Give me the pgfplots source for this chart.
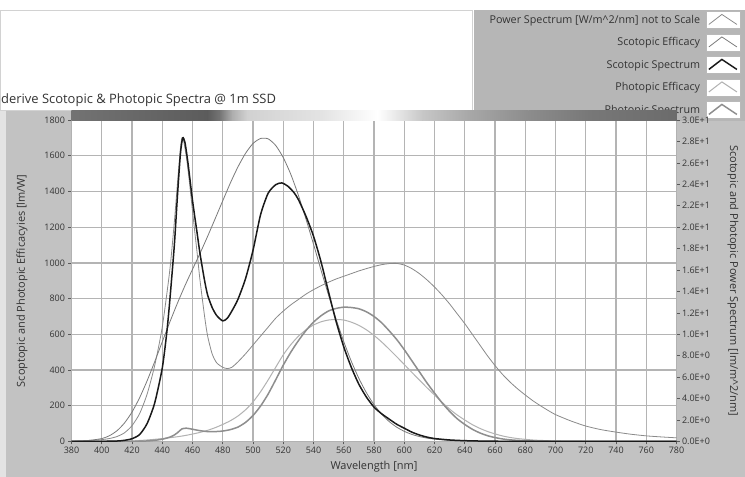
\documentclass[border=0pt]{standalone}
\usepackage{fontspec}
\setmainfont{Open Sans}
\usepackage{pgfplots}
\usepackage{pgfplotstable}
\pgfplotsset{compat=1.18}
\definecolor{bggray}{HTML}{C2C2C2}
\definecolor{leggray}{HTML}{B6B6B6}
\definecolor{gridgray}{HTML}{B4B4B4}
\definecolor{txtgray}{HTML}{333333}
\definecolor{cpow}{HTML}{8A8A8A}
\definecolor{cseff}{HTML}{7A7A7A}
\definecolor{csspec}{HTML}{1A1A1A}
\definecolor{cpeff}{HTML}{B2B2B2}
\definecolor{cpspec}{HTML}{8E8E8E}

\pgfplotstableread{
x y
380 2
385 3
390 5
395 7
400 10
405 16
410 27
415 48
420 88
425 155
430 265
435 425
440 640
445 960
448 1230
450 1440
452 1640
453 1700
454 1690
456 1590
458 1450
460 1290
463 1060
465 900
468 700
470 590
473 490
476 440
480 415
483 408
486 415
490 445
495 490
500 540
505 590
510 640
515 690
520 730
525 765
530 795
535 825
540 850
545 872
550 892
555 910
560 925
565 940
570 955
575 968
580 980
585 990
590 996
595 997
600 988
605 968
610 940
615 905
620 865
625 820
630 770
635 715
640 660
645 600
650 540
655 480
660 425
665 375
670 332
675 294
680 260
685 228
690 200
695 174
700 150
710 115
720 86
730 66
740 52
750 40
760 31
770 25
780 20
}\power

\pgfplotstableread{
x y
380 1.0
390 3.8
400 15.8
405 31.5
410 59.2
415 102.7
420 164.2
425 244.1
430 339.7
435 446.3
440 557.8
445 668.3
450 773.5
455 872.1
460 963.9
465 1054
470 1149
475 1248
480 1348
485 1447
490 1537
495 1613
500 1669
505 1697
510 1695
515 1658
520 1590
525 1496
530 1379
535 1246
540 1105
545 958.8
550 817.7
555 683.4
560 559.0
565 448.6
570 352.9
575 272.3
580 206.0
585 152.8
590 111.4
595 79.7
600 56.4
605 39.3
610 27.1
615 18.5
620 12.5
630 5.7
640 2.5
650 1.2
660 0.5
680 0.1
700 0
780 0
}\scoteff

\pgfplotstableread{
x y
380 0
400 0.5
410 2
415 6
420 15
425 38
430 100
435 215
440 410
443 610
445 790
448 1100
450 1370
452 1610
453.5 1700
455 1675
457 1560
460 1350
463 1170
465 1050
468 900
470 820
473 750
476 705
480 675
483 690
486 730
490 795
495 910
500 1070
505 1270
510 1390
515 1438
519 1448
523 1430
527 1395
530 1355
535 1262
540 1150
545 1005
550 835
555 670
560 530
565 415
570 320
575 248
580 192
585 155
590 125
595 96
600 74
605 52
610 36
615 24
620 16
630 8
640 4
650 2
660 1
680 0
780 0
}\scotspec

\pgfplotstableread{
x y
380 0.03
390 0.08
400 0.27
410 0.83
420 2.7
430 7.9
440 15.7
450 26
455 32.8
460 41
465 50.5
470 62
475 76.9
480 95
485 115.6
490 142
495 176.6
500 221
505 278
510 344
515 415
520 485
525 542
530 589
535 625
540 652
545 670
550 680
555 683
560 680
565 668
570 650
575 625
580 594
585 557.5
590 517
595 474.6
600 431
605 387
610 344
615 301
620 260
625 219
630 181
635 148
640 120
645 94
650 73
655 55.7
660 42
665 30.4
670 22
675 15.8
680 11.6
685 7.8
690 5.6
700 2.8
710 1.4
720 0.7
740 0.17
780 0.01
}\photeff

\pgfplotstableread{
x y
380 0
420 0.3
430 2.5
435 6
440 12
445 24
448 36
450 48
453 70
456 74
460 68
465 60
470 55
475 55
480 58
485 66
490 80
495 106
500 145
505 198
510 265
515 345
520 427
525 500
530 564
535 621
540 668
545 704
550 731
555 745
560 752
565 750
570 743
575 726
580 700
585 665
590 620
595 571
600 514
605 452
610 390
615 328
620 271
625 216
630 168
635 127
640 95
645 68
650 47.5
655 32
660 21.5
665 13.7
670 8.7
675 5.6
680 3.6
690 1.4
700 0.5
720 0.1
780 0
}\photspec

\newcommand\nmx[1]{71.5+1.5125*(#1-380)}
\tikzset{px/.style={shift={(-71.5,441.4)},yscale=-1}}

\begin{document}
\begin{tikzpicture}[x=1bp,y=1bp]
% backgrounds, in reference pixel coordinates (y downwards)
\begin{scope}[px]
\fill[white] (0,0) rectangle (745,477);
\fill[bggray] (0,110) rectangle (745,477);
\fill[gray!22] (0,110) rectangle (6,477);
\fill[white] (0,10) rectangle (472,110);
\draw[gray!35,line width=0.8bp] (0.5,10) rectangle (472,110);
\fill[leggray] (474,10) rectangle (745,121);
\node[anchor=base west,font=\fontsize{13}{15}\selectfont,text=txtgray,inner sep=0pt] at (1,104) {derive Scotopic \& Photopic Spectra @ 1m SSD};
\end{scope}

\begin{axis}[
  scale only axis, width=605bp, height=321.3bp,
  xmin=380, xmax=780, ymin=0, ymax=1800,
  xtick={380,400,...,780}, ytick={0,200,...,1800},
  /pgf/number format/1000 sep={},
  /pgf/number format/assume math mode=true,
  tick pos=left, tick align=outside,
  major tick length=3bp,
  tick style={draw=black!65,line width=0.6bp},
  grid=major,
  major grid style={draw=gridgray,line width=1.3bp},
  axis background/.style={fill=white},
  axis line style={draw=gray!60,line width=0.4bp},
  ticklabel style={font=\fontsize{9}{11}\selectfont,text=txtgray},
  xticklabel style={yshift=1bp},
  label style={font=\fontsize{11}{12}\selectfont,text=txtgray},
  xlabel={Wavelength [nm]},
  xlabel style={at={(axis description cs:0.5,-0.0797)},anchor=center},
  ylabel={Scoptopic and Photopic Efficacyies [lm/W]},
  ylabel style={at={(axis description cs:-0.0818,0.5)},anchor=center},
  legend plot pos=right,
  legend cell align=right,
  legend style={at={(axis description cs:1.1055,1.3396)},anchor=north east,
    draw=none,fill=none,inner sep=0pt,row sep=5bp,column sep=4bp,
    font=\fontsize{10.8}{12}\selectfont,text=txtgray,
    nodes={inner sep=1.5bp}},
  legend image code/.code={
    \draw[draw=gray!55,line width=0.5bp,fill=white,solid] (0bp,-8.5bp) rectangle (34bp,8.5bp);
    \draw (3bp,-4.5bp) -- (16bp,5.5bp) -- (31bp,-4.5bp);
  },
]
\addlegendimage{draw=cpow,line width=0.8bp}
\addlegendentry{Power Spectrum [W/m\textasciicircum 2/nm] not to Scale}
\addlegendimage{draw=cseff,line width=0.8bp}
\addlegendentry{Scotopic Efficacy}
\addlegendimage{draw=csspec,line width=1.5bp}
\addlegendentry{Scotopic Spectrum}
\addlegendimage{draw=cpeff,line width=1bp}
\addlegendentry{Photopic Efficacy}
\addlegendimage{draw=cpspec,line width=1.5bp}
\addlegendentry{Photopic Spectrum}

\addplot[forget plot,draw=cpow,line width=0.8bp,smooth,tension=0.4] table[x=x,y=y] {\power};
\addplot[forget plot,draw=cseff,line width=0.8bp,smooth,tension=0.4] table[x=x,y=y] {\scoteff};
\addplot[forget plot,draw=cpeff,line width=1bp,smooth,tension=0.4] table[x=x,y=y] {\photeff};
\addplot[forget plot,draw=cpspec,line width=1.5bp,smooth,tension=0.4] table[x=x,y=y] {\photspec};
\addplot[forget plot,draw=csspec,line width=1.5bp,smooth,tension=0.4] table[x=x,y=y] {\scotspec};
\end{axis}

\begin{axis}[
  scale only axis, width=605bp, height=321.3bp,
  xmin=380, xmax=780, ymin=0, ymax=30,
  hide x axis,
  axis y line*=right,
  axis line style={draw=none},
  ytick={0,2,...,30},
  yticklabels={0.0E+0,2.0E+0,4.0E+0,6.0E+0,8.0E+0,1.0E+1,1.2E+1,1.4E+1,1.6E+1,1.8E+1,2.0E+1,2.2E+1,2.4E+1,2.6E+1,2.8E+1,3.0E+1},
  /pgf/number format/assume math mode=true,
  tick align=outside, major tick length=3bp,
  tick style={draw=black!65,line width=0.6bp},
  ticklabel style={font=\fontsize{9}{11}\selectfont,text=txtgray},
  yticklabel style={xshift=-1bp},
  ylabel={Scotopic and Photopic Power Spectrum [lm/m\textasciicircum 2/nm]},
  ylabel style={font=\fontsize{11}{12}\selectfont,text=txtgray,at={(axis description cs:1.0934,0.5)},anchor=center,rotate=180},
]
\addplot[draw=none,forget plot] coordinates {(380,0) (780,30)};
\end{axis}

% spectrum gradient bar above plot
\begin{scope}[px]
\foreach \a/\b/\ca/\cb in {380/430/45/40,430/470/40/36,470/478/36/46,478/486/46/68,486/496/68/82,496/515/82/85,515/545/85/89,545/572/89/97,572/582/97/100,582/592/100/93,592/612/93/78,612/642/78/66,642/682/66/55,682/722/55/47,722/780/47/42}{
  \shade[left color=black!\the\numexpr100-\ca\relax!white,right color=black!\the\numexpr100-\cb\relax!white]
    ({\nmx{\a}},111) rectangle ({\nmx{\b}+0.3},120.3);
}
\end{scope}
\end{tikzpicture}
\end{document}
